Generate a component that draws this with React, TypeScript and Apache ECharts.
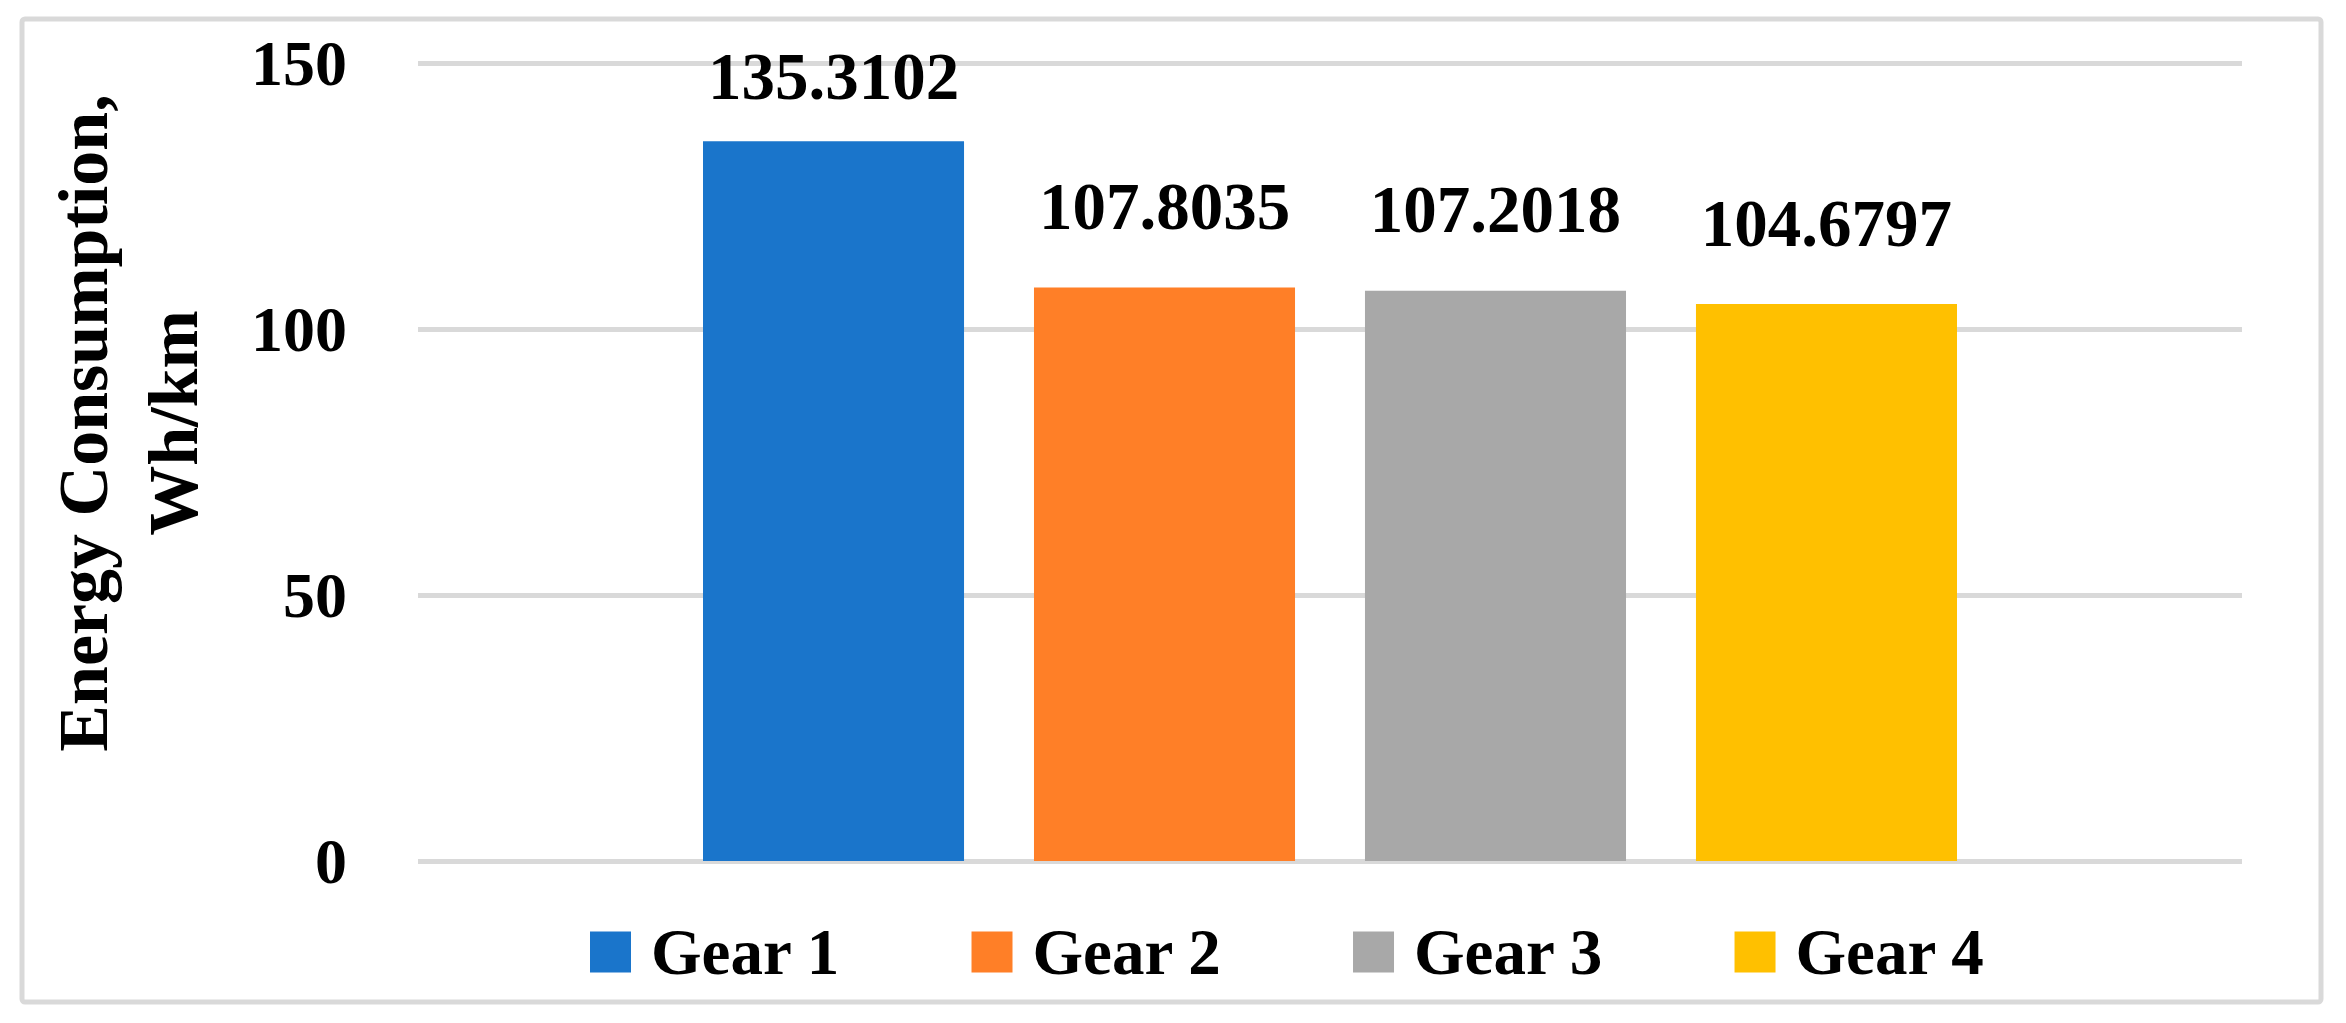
import React, { useEffect, useRef } from "react";
import * as echarts from "echarts";

const seriesNames = ["Gear 1", "Gear 2", "Gear 3", "Gear 4"];
const values = [135.3102, 107.8035, 107.2018, 104.6797];
const colors = ["#1A75CB", "#FF7F27", "#A8A8A8", "#FFC000"];
const categories = [""];
const yTitle = "Energy Consumption,\nWh/km";
const yMin = 0;
const yMax = 150;
const yInterval = 50;

const FONT = "'Liberation Serif', 'Times New Roman', serif";

export default function App() {
  const ref = useRef<HTMLDivElement>(null);
  useEffect(() => {
    if (!ref.current) return;
    const chart = echarts.init(ref.current, undefined, { renderer: "svg" });
    const series = seriesNames.map((name, i) => ({
      name,
      type: "bar",
      data: [values[i]],
      itemStyle: { color: colors[i] },
      barGap: "26.8%",
      barCategoryGap: "31.25%",
      label: {
        show: true,
        position: "top",
        // the tallest bar's label is pushed down to stay near the plot top
        distance: values[i] === Math.max(...values) ? 32 : 48,
        formatter: (p: any) => p.value.toFixed(4),
        fontFamily: FONT,
        fontWeight: "bold",
        fontSize: 67,
        color: "#000",
      },
    }));
    chart.setOption({
      animation: false,
      backgroundColor: "#fff",
      grid: { left: 418, right: 104, top: 63, bottom: 162, containLabel: false },
      xAxis: {
        type: "category",
        data: categories,
        axisLine: { show: false },
        axisTick: { show: false },
        axisLabel: { show: false },
        splitLine: { show: false },
      },
      yAxis: {
        type: "value",
        min: yMin,
        max: yMax,
        interval: yInterval,
        axisLine: { show: false },
        axisTick: { show: false },
        axisLabel: {
          margin: 71,
          fontFamily: FONT,
          fontWeight: "bold",
          fontSize: 64,
          color: "#000",
        },
        splitLine: { show: true, lineStyle: { color: "#D9D9D9", width: 5 } },
      },
      legend: {
        data: seriesNames,
        left: 585,
        top: 914,
        orient: "horizontal",
        itemWidth: 41,
        itemHeight: 41,
        itemGap: 131,
        icon: "rect",
        textStyle: {
          fontFamily: FONT,
          fontWeight: "bold",
          fontSize: 65,
          lineHeight: 66,
          color: "#000",
          padding: [0, 0, 0, 15],
        },
      },
      graphic: [
        {
          type: "rect",
          shape: { x: 22, y: 19, width: 2299, height: 983, r: 3 },
          style: { fill: "none", stroke: "#D9D9D9", lineWidth: 5 },
          silent: true,
        },
        {
          type: "text",
          x: 128,
          y: 423,
          rotation: Math.PI / 2,
          style: {
            text: yTitle,
            align: "center",
            verticalAlign: "middle",
            fontFamily: FONT,
            fontWeight: "bold",
            fontSize: 70,
            lineHeight: 90,
            fill: "#000",
          },
        },
      ],
      series,
    });
    return () => chart.dispose();
  }, []);
  return (
    <div
      ref={ref}
      style={{ position: "fixed", left: 0, top: 0, width: 2346, height: 1023 }}
    />
  );
}
